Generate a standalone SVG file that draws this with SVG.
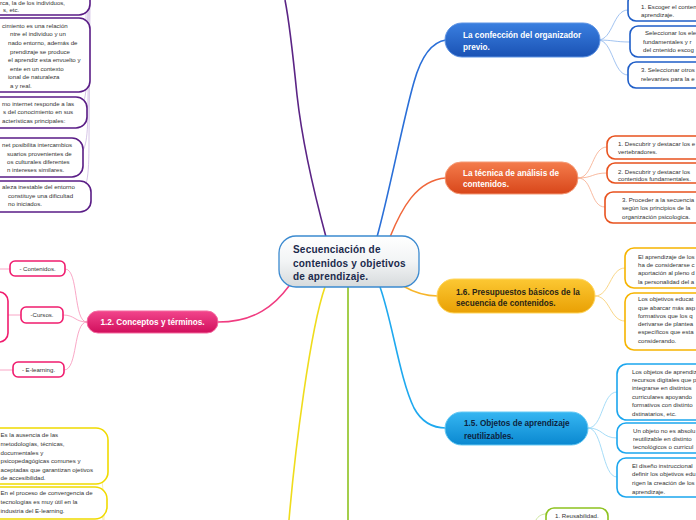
<svg xmlns="http://www.w3.org/2000/svg" width="696" height="520" viewBox="0 0 696 520">
<defs>
<linearGradient id="gCenter" x1="0" y1="0" x2="0" y2="1"><stop offset="0" stop-color="#ffffff"/><stop offset="0.5" stop-color="#f2f4f5"/><stop offset="1" stop-color="#d6dadc"/></linearGradient>
<linearGradient id="gBlue" x1="0" y1="0" x2="0" y2="1"><stop offset="0" stop-color="#3a7fe0"/><stop offset="1" stop-color="#1a52b4"/></linearGradient>
<linearGradient id="gOrange" x1="0" y1="0" x2="0" y2="1"><stop offset="0" stop-color="#f47c4c"/><stop offset="1" stop-color="#d8461a"/></linearGradient>
<linearGradient id="gAmber" x1="0" y1="0" x2="0" y2="1"><stop offset="0" stop-color="#fcc833"/><stop offset="1" stop-color="#e9a004"/></linearGradient>
<linearGradient id="gLBlue" x1="0" y1="0" x2="0" y2="1"><stop offset="0" stop-color="#36b6f2"/><stop offset="1" stop-color="#0a88d0"/></linearGradient>
<linearGradient id="gPink" x1="0" y1="0" x2="0" y2="1"><stop offset="0" stop-color="#f2458c"/><stop offset="1" stop-color="#d10e5c"/></linearGradient>
</defs>
<style>
.sm{font-family:"Liberation Sans",Arial,sans-serif;font-size:6.1px;fill:#333}
.lbl{font-family:"Liberation Sans",Arial,sans-serif;font-size:8.2px;font-weight:bold}
.ctr{font-family:"Liberation Sans",Arial,sans-serif;font-size:10px;font-weight:bold;fill:#1b2a4c;letter-spacing:0.2px}
.box{fill:#fff;stroke-width:1.6}
.c{fill:none}
</style>
<rect width="696" height="520" fill="#fff"/>
<g id="connectors">
<path class="c" d="M326,237 C316,200 302,140 297,95 C293,55 290,25 285,0" stroke="#5b2485" stroke-width="1.6"/>
<path class="c" d="M377,237 C390,190 403,120 414,82 C421,57 432,42 446,40" stroke="#2a6fd8" stroke-width="1.6"/>
<path class="c" d="M390,237 C401,210 416,180 446,178" stroke="#f0663a" stroke-width="1.5"/>
<path class="c" d="M403,286 C415,293 425,296 438,296" stroke="#f7b52a" stroke-width="1.5"/>
<path class="c" d="M380,287 C392,320 400,380 414,408 C421,421 432,428 446,428" stroke="#1fa9ef" stroke-width="1.6"/>
<path class="c" d="M348,287 L348,520" stroke="#8dc21f" stroke-width="1.6"/>
<path class="c" d="M325,287 C310,330 295,450 289,520" stroke="#efdc1c" stroke-width="1.6"/>
<path class="c" d="M289,286 C275,305 255,322 218,322" stroke="#f03c80" stroke-width="1.5"/>
<g stroke="#8ab4ec" stroke-width="0.8" fill="none">
<path d="M598,40 C613,40 613,10 628,10"/>
<path d="M598,40 C613,40 615,42 630,42"/>
<path d="M598,40 C613,40 613,75 628,75"/>
</g>
<g stroke="#f6a888" stroke-width="0.8" fill="none">
<path d="M578,178 C593,178 592,147 607,147"/>
<path d="M578,178 C593,178 592,173 607,173"/>
<path d="M578,178 C593,178 590,207 605,207"/>
</g>
<g stroke="#f8cc6a" stroke-width="0.8" fill="none">
<path d="M595,296 C610,296 610,268 625,268"/>
<path d="M595,296 C610,296 610,321 625,321"/>
</g>
<g stroke="#8fd3f5" stroke-width="0.8" fill="none">
<path d="M588,428 C603,428 602,392 617,392"/>
<path d="M588,428 C603,428 602,438 617,438"/>
<path d="M588,428 C603,428 602,477 617,477"/>
</g>
<g stroke="#f890b8" stroke-width="0.8" fill="none">
<path d="M87,322 C73,322 79,269 65,269"/>
<path d="M87,322 C75,322 75,315 63,315"/>
<path d="M87,322 C73,322 78,370 64,370"/>
<path d="M0,269 L10,269"/>
<path d="M7,315 L21,315"/>
<path d="M0,370 L13,370"/>
</g>
<g stroke="#c4acdc" stroke-width="0.7" fill="none">
<path d="M78,52 C84,47 86,40 86,20 L86,0"/>
<path d="M78,110 C85,104 87,95 87,60 L88,0"/>
<path d="M78,157 C86,150 88,140 88,100 L89,0"/>
<path d="M78,196 C87,189 89,180 89,140 L90,0"/>
<path d="M78,6 C83,4 84,2 85,0"/>
</g>
<g stroke="#f3e690" stroke-width="0.7" fill="none">
<path d="M95,452 C101,460 104,490 104,520"/>
<path d="M95,497 C100,503 102,512 103,520"/>
</g>
<path class="c" d="M536,520 C538,516 542,514 546,514" stroke="#c0e08a" stroke-width="0.8"/>
</g>

<g id="center">
<rect x="279" y="236" width="140" height="51" rx="17" fill="url(#gCenter)" stroke="#3b8ad0" stroke-width="1.3"/>
<text class="ctr" x="293" y="253">Secuenciación de</text>
<text class="ctr" x="293" y="267">contenidos y objetivos</text>
<text class="ctr" x="293" y="280">de aprendizaje.</text>
</g>

<g id="n-organizador">
<rect x="445" y="23" width="155" height="34" rx="17" fill="url(#gBlue)" stroke="#5d93e4" stroke-width="1"/>
<text class="lbl" x="463" y="38" fill="#fff">La confección del organizador</text>
<text class="lbl" x="463" y="50" fill="#fff">previo.</text>
</g>
<g id="o1"><rect class="box" x="628" y="-6" width="90" height="27" rx="8" stroke="#1f5ec8"/>
<text class="sm" x="641" y="9">1. Escoger el conten</text><text class="sm" x="641" y="17">aprendizaje.</text></g>
<g id="o2"><rect class="box" x="630" y="26" width="90" height="31" rx="8" stroke="#1f5ec8"/>
<text class="sm" x="645" y="35">Seleccionar los ele</text><text class="sm" x="643" y="44">fundamentales y r</text><text class="sm" x="643" y="52">del cntenido escog</text></g>
<g id="o3"><rect class="box" x="628" y="62" width="90" height="26" rx="8" stroke="#1f5ec8"/>
<text class="sm" x="641" y="72">3. Seleccionar otros</text><text class="sm" x="641" y="81">relevantes para la e</text></g>

<g id="n-tecnica">
<rect x="445" y="162" width="133" height="32" rx="16" fill="url(#gOrange)" stroke="#f49a76" stroke-width="1"/>
<text class="lbl" x="463" y="176" fill="#fff">La técnica de análisis de</text>
<text class="lbl" x="463" y="187" fill="#fff">contenidos.</text>
</g>
<g id="t1"><rect class="box" x="607" y="136" width="100" height="23" rx="8" stroke="#e8521e"/>
<text class="sm" x="618" y="146">1. Descubrir y destacar los e</text><text class="sm" x="618" y="154">vertebradores.</text></g>
<g id="t2"><rect class="box" x="607" y="163" width="100" height="20" rx="8" stroke="#e8521e"/>
<text class="sm" x="618" y="174">2. Descubrir y destacar los</text><text class="sm" x="618" y="181">contenidos fundamentales.</text></g>
<g id="t3"><rect class="box" x="605" y="192" width="100" height="31" rx="8" stroke="#e8521e"/>
<text class="sm" x="622" y="202">3. Proceder a la secuencia</text><text class="sm" x="622" y="210">según los principios de la</text><text class="sm" x="622" y="219">organización psicologica.</text></g>

<g id="n-presupuestos">
<rect x="437" y="279" width="158" height="34" rx="17" fill="url(#gAmber)" stroke="#ffd55a" stroke-width="1"/>
<text class="lbl" x="456" y="295" fill="#2a2416">1.6. Presupuestos básicos de la</text>
<text class="lbl" x="456" y="306" fill="#2a2416">secuencia de contenidos.</text>
</g>
<g id="p1"><rect class="box" x="625" y="248" width="90" height="40" rx="9" stroke="#f6b400"/>
<text class="sm" x="638" y="259">El aprendizaje de los</text><text class="sm" x="638" y="267">ha de considerarse c</text><text class="sm" x="638" y="275">aportación al pleno d</text><text class="sm" x="638" y="284">la personalidad del a</text></g>
<g id="p2"><rect class="box" x="625" y="293" width="90" height="57" rx="9" stroke="#f6b400"/>
<text class="sm" x="638" y="301">Los objetivos educat</text><text class="sm" x="638" y="310">que abarcar más asp</text><text class="sm" x="638" y="318">formativos que los q</text><text class="sm" x="638" y="326">derivarse de plantea</text><text class="sm" x="638" y="334">específicos que esta</text><text class="sm" x="638" y="343">considerando.</text></g>

<g id="n-objetos">
<rect x="445" y="412" width="143" height="33" rx="16.5" fill="url(#gLBlue)" stroke="#66c9f4" stroke-width="1"/>
<text class="lbl" x="464" y="426" fill="#0d2340">1.5. Objetos de aprendizaje</text>
<text class="lbl" x="464" y="439" fill="#0d2340">reutilizables.</text>
</g>
<g id="r1"><rect class="box" x="617" y="364" width="100" height="56" rx="10" stroke="#1ba6ee"/>
<text class="sm" x="632" y="374">Los objetos de aprendiz</text><text class="sm" x="632" y="382">recursos digitales que p</text><text class="sm" x="632" y="390">integrarse en distintos</text><text class="sm" x="632" y="399">curriculares apoyando</text><text class="sm" x="632" y="407">formativos con distinto</text><text class="sm" x="632" y="416">dstinatarios, etc.</text></g>
<g id="r2"><rect class="box" x="617" y="423" width="100" height="30" rx="9" stroke="#1ba6ee"/>
<text class="sm" x="633" y="433">Un objeto no es absolu</text><text class="sm" x="633" y="441">reutilizable en distinto</text><text class="sm" x="633" y="449">tecnológicos o curricul</text></g>
<g id="r3"><rect class="box" x="617" y="458" width="100" height="39" rx="9" stroke="#1ba6ee"/>
<text class="sm" x="632" y="468">El diseño instruccional</text><text class="sm" x="632" y="476">definir los objetivos edu</text><text class="sm" x="632" y="485">rigen la creación de los</text><text class="sm" x="632" y="494">aprendizaje.</text></g>

<g id="g-reusabilidad"><rect class="box" x="546" y="508" width="62" height="24" rx="8" stroke="#8dc21f"/>
<text class="sm" x="555" y="518">1. Reusabilidad.</text></g>

<g id="n-conceptos">
<rect x="87" y="311" width="131" height="22" rx="11" fill="url(#gPink)" stroke="#f56aa0" stroke-width="1"/>
<text class="lbl" x="152.5" y="325" fill="#fff" text-anchor="middle">1.2. Conceptos y términos.</text>
</g>
<g id="k1"><rect class="box" x="10" y="261" width="55" height="15" rx="5" stroke="#f01c6e"/>
<text class="sm" x="37.5" y="271" text-anchor="middle">- Contenidos.</text></g>
<g id="k2"><rect class="box" x="21" y="307" width="42" height="16" rx="5" stroke="#f01c6e"/>
<text class="sm" x="42" y="317" text-anchor="middle">-Cursos.</text></g>
<g id="k3"><rect class="box" x="13" y="362" width="51" height="15" rx="5" stroke="#f01c6e"/>
<text class="sm" x="38.5" y="372" text-anchor="middle">- E-learning.</text></g>
<g id="k4"><rect class="box" x="-60" y="292" width="68" height="50" rx="9" stroke="#f01c6e"/></g>

<g id="a1"><rect class="box" x="-100" y="-30" width="190" height="45" rx="11" stroke="#5a1d86" stroke-width="1.8"/>
<text class="sm" x="0" y="5">rca, la de los individuos,</text><text class="sm" x="3" y="11.5">s, etc.</text></g>
<g id="a2"><rect class="box" x="-100" y="18" width="190" height="74" rx="11" stroke="#5a1d86" stroke-width="1.8"/>
<text class="sm" x="2" y="28">cimiento es una relación</text>
<text class="sm" x="10" y="36">ntre el individuo y un</text>
<text class="sm" x="8" y="45">nado entorno, además de</text>
<text class="sm" x="10" y="54">prendizaje se produce</text>
<text class="sm" x="8" y="62">el aprendiz esta envuelto y</text>
<text class="sm" x="10" y="71">ente en un contexto</text>
<text class="sm" x="8" y="79">ional de naturaleza</text>
<text class="sm" x="10" y="88">a y real.</text></g>
<g id="a3"><rect class="box" x="-100" y="97" width="187" height="31" rx="11" stroke="#5a1d86" stroke-width="1.8"/>
<text class="sm" x="2" y="106">mo internet responde a las</text>
<text class="sm" x="3" y="114">s del conocimiento en sus</text>
<text class="sm" x="2" y="123">acterísticas principales:</text></g>
<g id="a4"><rect class="box" x="-100" y="138" width="183" height="39" rx="11" stroke="#5a1d86" stroke-width="1.8"/>
<text class="sm" x="2" y="147">net posibilita intercambios</text>
<text class="sm" x="7" y="156">suarios provenientes de</text>
<text class="sm" x="7" y="164">os culturales diferentes</text>
<text class="sm" x="7" y="172">n intereses similares.</text></g>
<g id="a5"><rect class="box" x="-100" y="181" width="191" height="31" rx="11" stroke="#5a1d86" stroke-width="1.8"/>
<text class="sm" x="2" y="189">aleza inestable del entorno</text>
<text class="sm" x="8" y="198">constituye una dificultad</text>
<text class="sm" x="8" y="206">no iniciados.</text></g>

<g id="y1"><rect class="box" x="-100" y="428" width="208" height="56" rx="12" stroke="#f0da00" stroke-width="1.8"/>
<text class="sm" x="0.5" y="437">Es la ausencia de las</text>
<text class="sm" x="0.5" y="446">metodologías, técnicas,</text>
<text class="sm" x="0.5" y="455">documentales y</text>
<text class="sm" x="0.5" y="463">psicopedagógicas comunes y</text>
<text class="sm" x="0.5" y="472">aceptadas que garantizan ojetivos</text>
<text class="sm" x="0.5" y="480">de accesibilidad.</text></g>
<g id="y2"><rect class="box" x="-100" y="487" width="207" height="32" rx="12" stroke="#f0da00" stroke-width="1.8"/>
<text class="sm" x="0.5" y="495">En el proceso de convergencia de</text>
<text class="sm" x="0.5" y="504">tecnologías es muy útil en la</text>
<text class="sm" x="0.5" y="513">industria del E-learning.</text></g>
</svg>
